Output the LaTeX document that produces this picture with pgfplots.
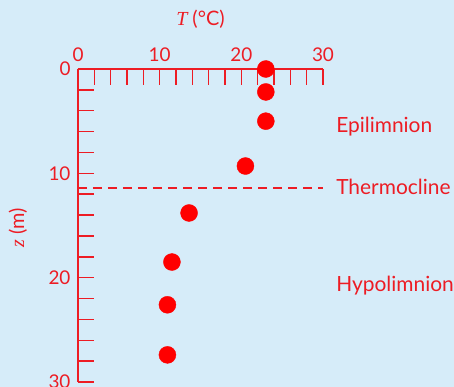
\documentclass[border=0pt]{standalone}
\usepackage{pgfplots}
\pgfplotsset{compat=1.18}
\usepackage{fontspec}
\setmainfont{Lato}
\newfontfamily\serifit{Liberation Serif}
\definecolor{myred}{RGB}{237,28,36}
\definecolor{dotred}{RGB}{255,0,0}
\definecolor{bgc}{RGB}{214,236,249}
\begin{document}
\begin{tikzpicture}
\path[use as bounding box, fill=bgc] (-78bp,-5bp) rectangle (376bp,382bp);
\begin{axis}[
  at={(0,0)}, anchor=south west,
  scale only axis, width=245bp, height=313bp,
  xmin=0, xmax=30, ymin=0, ymax=30,
  y dir=reverse,
  axis x line=top, axis y line=left,
  axis line style={-, draw=myred, line width=1.5bp},
  xtick={0,10,20,30}, ytick={0,10,20,30},
  minor xtick={2,4,...,28}, minor ytick={2,4,...,28},
  major tick length=16bp, minor tick length=16bp,
  tick align=inside,
  tick style={draw=myred, line width=1.5bp},
  minor tick style={draw=myred, line width=1.5bp},
  ticklabel style={font=\fontsize{19}{19}\selectfont, text=myred},
  xticklabel style={yshift=4bp},
  yticklabel style={xshift=-4bp},
  /pgf/number format/assume math mode=true,
  clip=false,
]
\addplot[only marks, mark=*, mark size=8.5bp, draw=dotred, fill=dotred]
  coordinates {(23.0,0) (23.0,2.2) (23.0,5.0) (20.5,9.3) (13.6,13.8) (11.5,18.5) (10.95,22.6) (10.95,27.4)};
\addplot[myred, line width=1.2bp, dash pattern=on 9bp off 6bp] coordinates {(0,11.4) (30,11.4)};
\node[anchor=west, inner sep=0pt, text=myred, font=\fontsize{21}{21}\selectfont] at (axis cs:31.6,5.5) {Epilimnion};
\node[anchor=west, inner sep=0pt, text=myred, font=\fontsize{21}{21}\selectfont] at (axis cs:31.6,11.3) {Thermocline};
\node[anchor=west, inner sep=0pt, text=myred, font=\fontsize{21}{21}\selectfont] at (axis cs:31.6,20.8) {Hypolimnion};
\node[text=myred, font=\fontsize{20}{20}\selectfont] at (axis cs:15,-4.8) {{\serifit\itshape T} (°C)};
\node[text=myred, rotate=90, font=\fontsize{20}{20}\selectfont] at (axis cs:-7.35,15.2) {{\serifit\itshape z} (m)};
\end{axis}
\end{tikzpicture}
\end{document}
